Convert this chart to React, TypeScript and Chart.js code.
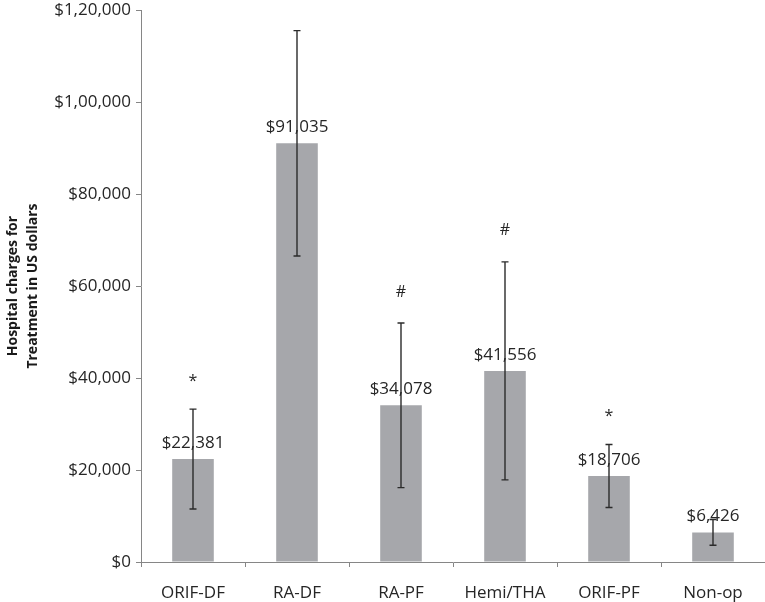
import React, { useEffect, useRef } from 'react';
import { Chart, registerables } from 'chart.js';

Chart.register(...registerables);

const categories = ['ORIF-DF', 'RA-DF', 'RA-PF', 'Hemi/THA', 'ORIF-PF', 'Non-op'];
const charges = [22381, 91035, 34078, 41556, 18706, 6426];
const errors = [10850, 24500, 17900, 23700, 6850, 2800];
const markers = ['*', '', '#', '#', '*', ''];
const yTickLabels = ['$0', '$20,000', '$40,000', '$60,000', '$80,000', '$1,00,000', '$1,20,000'];

const FONT = '"Open Sans", "DejaVu Sans", sans-serif';

const annotatePlugin = {
  id: 'annotate',
  afterDatasetsDraw(chart: any) {
    const ctx = chart.ctx;
    const meta = chart.getDatasetMeta(0);
    const y = chart.scales.y;
    ctx.save();
    meta.data.forEach((bar: any, i: number) => {
      const x = bar.x;
      const v = charges[i];
      ctx.font = `17px ${FONT}`;
      ctx.fillStyle = '#262626';
      ctx.textAlign = 'center';
      ctx.textBaseline = 'middle';
      ctx.fillText('$' + v.toLocaleString('en-US'), x, y.getPixelForValue(v) - 16);

      const top = y.getPixelForValue(v + errors[i]);
      const bot = y.getPixelForValue(v - errors[i]);
      ctx.strokeStyle = '#2b2b2b';
      ctx.lineWidth = 1.4;
      ctx.beginPath();
      ctx.moveTo(x, top);
      ctx.lineTo(x, bot);
      ctx.moveTo(x - 3.5, top);
      ctx.lineTo(x + 3.5, top);
      ctx.moveTo(x - 3.5, bot);
      ctx.lineTo(x + 3.5, bot);
      ctx.stroke();

      if (markers[i]) {
        ctx.font = `16px ${FONT}`;
        ctx.fillText(markers[i], x, top - (markers[i] === '#' ? 31 : 28));
      }
    });
    ctx.restore();
  },
};

export default function App() {
  const ref = useRef<HTMLCanvasElement | null>(null);
  useEffect(() => {
    if (!ref.current) return;
    const chart = new Chart(ref.current, {
      type: 'bar',
      data: {
        labels: categories,
        datasets: [
          {
            data: charges,
            backgroundColor: '#a6a7ab',
            borderWidth: 0,
            categoryPercentage: 1,
            barPercentage: 0.4,
          },
        ],
      },
      options: {
        animation: false,
        responsive: true,
        maintainAspectRatio: false,
        layout: { padding: { top: 0, right: 0, left: 0, bottom: 0 } },
        plugins: {
          legend: { display: false },
          tooltip: { enabled: false },
        },
        scales: {
          x: {
            grid: { drawOnChartArea: false, tickLength: 5, color: '#868686', offset: true },
            border: { color: '#868686', width: 1 },
            ticks: { padding: 16, color: '#262626', font: { family: FONT, size: 17 } },
            afterFit: (scale: any) => {
              scale.height = 40;
            },
          },
          y: {
            min: 0,
            max: 120000,
            ticks: {
              stepSize: 20000,
              padding: 5,
              color: '#262626',
              font: { family: FONT, size: 17, lineHeight: 0.6 },
              callback: (_v: any, index: number) => yTickLabels[index],
            },
            grid: { drawOnChartArea: false, tickLength: 5, color: '#868686' },
            border: { color: '#868686', width: 1 },
            title: {
              display: true,
              text: ['Hospital charges for', 'Treatment in US dollars'],
              color: '#1a1a1a',
              font: { family: FONT, size: 14, weight: 'bold', lineHeight: 1.43 },
              padding: { top: 3, bottom: 0 },
            },
            afterFit: (scale: any) => {
              scale.width = 141;
            },
          },
        },
      },
      plugins: [annotatePlugin],
    });
    return () => chart.destroy();
  }, []);
  return (
    <div style={{ position: 'fixed', left: 0, top: 0, width: 765, height: 602, background: '#fff' }}>
      <canvas ref={ref} />
    </div>
  );
}
